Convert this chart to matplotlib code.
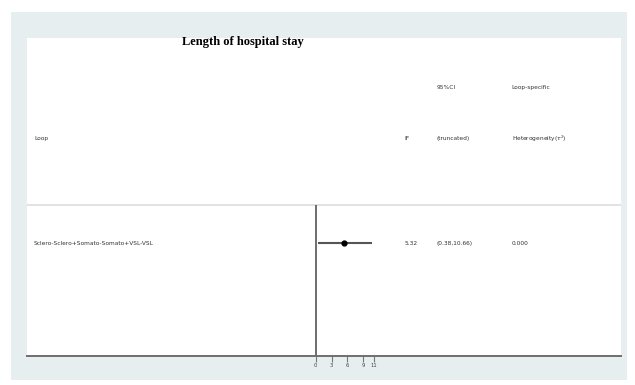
import matplotlib.pyplot as plt
from matplotlib.patches import Rectangle
from matplotlib.transforms import blended_transform_factory

# loop-specific inconsistency factor for length of hospital stay
loops = ["Sclero-Sclero+Somato-Somato+VSL-VSL"]
if_est = [5.32]
ci_lo = [0.38]
ci_hi = [10.66]
ci_txt = ["(0.38,10.66)"]
tau2 = ["0.000"]
xticks = [0, 3, 6, 9, 11]

fig = plt.figure(figsize=(6.35, 3.85), dpi=100)
fig.patch.set_facecolor("white")
fig.patches.append(Rectangle((0.0173, 0.013), 0.970, 0.956, transform=fig.transFigure,
                             facecolor="#e6eef0", edgecolor="none", zorder=-1))

ax = fig.add_axes([0.0425, 0.0753, 0.9354, 0.826])
ax.set_zorder(2)
ax.set_facecolor("white")
ax.set_xlim(-54.8, 57.9)
ax.set_ylim(-2.97, 5.39)

for s in ["top", "left", "right"]:
    ax.spines[s].set_visible(False)
ax.spines["bottom"].set_color("#6e6e6e")
ax.spines["bottom"].set_linewidth(1.4)
ax.set_yticks([])
ax.set_xticks(xticks)
ax.set_xticklabels([str(t) for t in xticks], fontsize=3.8, color="#444444")
ax.tick_params(axis="x", length=4, width=0.8, color="#777777", pad=1)

# separator under the header block and the null line
ax.axhline(1, color="#dddddd", lw=1.2)
ax.vlines(0, -2.97, 1, color="#555555", lw=1.2)

rows = list(range(len(loops)))
ax.hlines(rows, ci_lo, ci_hi, color="#555555", lw=1.5)
ax.plot(if_est, rows, "o", color="black", ms=3.5)

tr = blended_transform_factory(ax.transAxes, ax.transData)
fs = 4.2
col = "#333333"
ax.text(0.012, 2.74, "Loop", transform=tr, fontsize=fs, color=col, va="center")
ax.text(0.635, 2.74, "IF", transform=tr, fontsize=fs, color=col, va="center")
ax.text(0.69, 4.1, "95%CI", transform=tr, fontsize=fs, color=col, va="center")
ax.text(0.69, 2.74, "(truncated)", transform=tr, fontsize=fs, color=col, va="center")
ax.text(0.816, 4.1, "Loop-specific", transform=tr, fontsize=fs, color=col, va="center")
ax.text(0.816, 2.74, r"Heterogeneity($\tau^2$)", transform=tr, fontsize=fs, color=col, va="center")

for r, name, v, c, t in zip(rows, loops, if_est, ci_txt, tau2):
    ax.text(0.012, r, name, transform=tr, fontsize=fs, color=col, va="center")
    ax.text(0.635, r, f"{v:.2f}", transform=tr, fontsize=fs, color=col, va="center")
    ax.text(0.69, r, c, transform=tr, fontsize=fs, color=col, va="center")
    ax.text(0.816, r, t, transform=tr, fontsize=fs, color=col, va="center")

fig.text(243 / 635, 1 - 42 / 385, "Length of hospital stay", ha="center", va="center",
         fontsize=9, fontweight="bold", family="Liberation Serif", zorder=3)

fig.savefig("out.png", dpi=100)
